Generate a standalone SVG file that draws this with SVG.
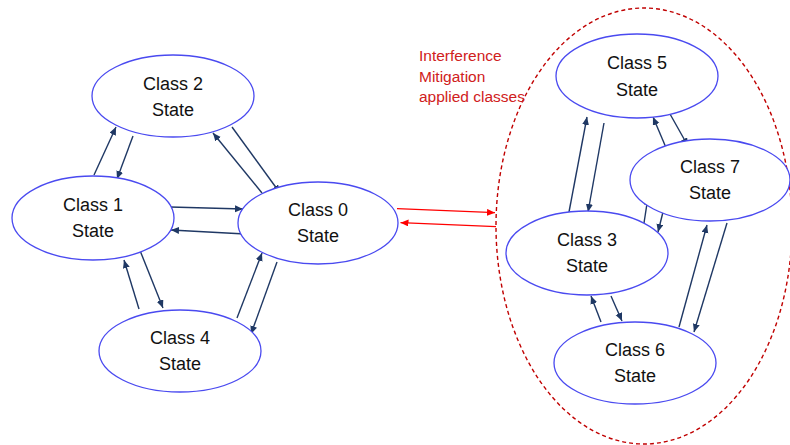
<svg xmlns="http://www.w3.org/2000/svg" width="790" height="445" viewBox="0 0 790 445">
<defs>
<marker id="ah" markerUnits="userSpaceOnUse" markerWidth="9" markerHeight="8" refX="8" refY="3.5" orient="auto"><path d="M0,0 L8,3.5 L0,7 z" fill="#1f3864"/></marker>
<marker id="ahr" markerUnits="userSpaceOnUse" markerWidth="9" markerHeight="8" refX="8" refY="3.5" orient="auto"><path d="M0,0 L8,3.5 L0,7 z" fill="#ff0000"/></marker>
</defs>
<style>
.n{fill:#fff;stroke:#4a4af0;stroke-width:1.3}
.t{font-family:"Liberation Sans",Arial,sans-serif;font-size:18px;fill:#111;text-anchor:middle}
.c line{stroke:#1f3864;stroke-width:1.4;marker-end:url(#ah)}
.r line{stroke:#ff0000;stroke-width:1.3;marker-end:url(#ahr)}
.lbl{font-family:"Liberation Sans",Arial,sans-serif;font-size:15.5px;fill:#d02020}
</style>
<rect width="790" height="445" fill="#fff"/>
<ellipse id="group" cx="644" cy="226" rx="148" ry="218" fill="none" stroke="#c00000" stroke-width="1.4" stroke-dasharray="4,3"/>
<g class="c">
<line x1="94" y1="175" x2="116" y2="127"/>
<line x1="133" y1="136" x2="117" y2="179"/>
<line x1="262" y1="193" x2="213" y2="133"/>
<line x1="232" y1="127" x2="280" y2="193"/>
<line x1="170" y1="207" x2="243" y2="209"/>
<line x1="245" y1="234" x2="171" y2="230"/>
<line x1="139" y1="248" x2="163" y2="308"/>
<line x1="139" y1="309" x2="124" y2="260"/>
<line x1="237" y1="318" x2="262" y2="253"/>
<line x1="277" y1="262" x2="251" y2="334"/>
<line x1="569" y1="212" x2="587" y2="117"/>
<line x1="604" y1="123" x2="588" y2="212"/>
<line x1="667" y1="150" x2="653" y2="117"/>
<line x1="670" y1="114" x2="688" y2="146"/>
<line x1="644" y1="223" x2="648" y2="197"/>
<line x1="663" y1="212" x2="658" y2="232"/>
<line x1="601" y1="322" x2="591" y2="296"/>
<line x1="611" y1="296" x2="622" y2="321"/>
<line x1="679" y1="327" x2="707" y2="225"/>
<line x1="727" y1="223" x2="694" y2="332"/>
</g>
<g class="r">
<line x1="397" y1="208.7" x2="495" y2="212.7"/>
<line x1="496" y1="226.7" x2="400.5" y2="222.7"/>
</g>
<g id="node2"><ellipse class="n" cx="173" cy="96" rx="81" ry="41"/><text class="t" x="173" y="90">Class 2</text><text class="t" x="173" y="116">State</text></g>
<g id="node1"><ellipse class="n" cx="93" cy="218" rx="81" ry="42"/><text class="t" x="93" y="211">Class 1</text><text class="t" x="93" y="237">State</text></g>
<g id="node0"><ellipse class="n" cx="318" cy="223" rx="80" ry="41"/><text class="t" x="318" y="216">Class 0</text><text class="t" x="318" y="242">State</text></g>
<g id="node4"><ellipse class="n" cx="180" cy="351" rx="81" ry="41"/><text class="t" x="180" y="344">Class 4</text><text class="t" x="180" y="370">State</text></g>
<g id="node5"><ellipse class="n" cx="637" cy="76" rx="81" ry="42"/><text class="t" x="637" y="69">Class 5</text><text class="t" x="637" y="96">State</text></g>
<g id="node7"><ellipse class="n" cx="710" cy="180" rx="80" ry="41"/><text class="t" x="710" y="173">Class 7</text><text class="t" x="710" y="199">State</text></g>
<g id="node3"><ellipse class="n" cx="587" cy="253" rx="81" ry="42"/><text class="t" x="587" y="246">Class 3</text><text class="t" x="587" y="272">State</text></g>
<g id="node6"><ellipse class="n" cx="635" cy="363" rx="81" ry="41"/><text class="t" x="635" y="356">Class 6</text><text class="t" x="635" y="382">State</text></g>
<g id="label"><text class="lbl" x="419" y="61">Interference</text><text class="lbl" x="419" y="82">Mitigation</text><text class="lbl" x="419" y="102">applied classes</text></g>
</svg>
